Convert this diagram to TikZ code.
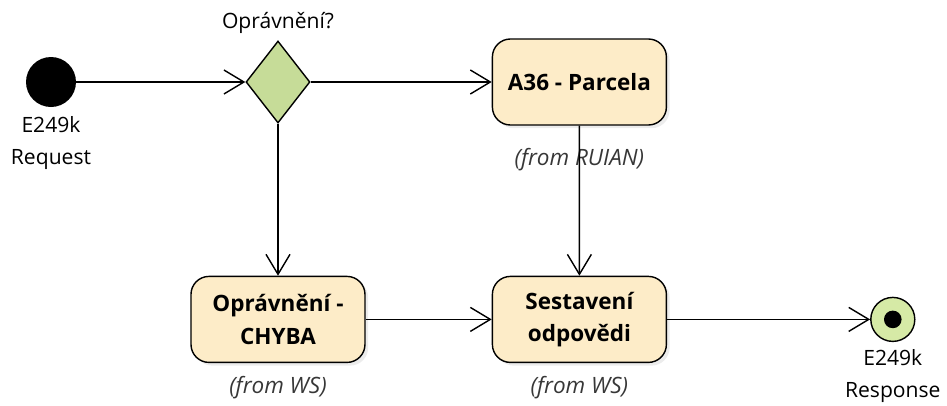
\documentclass[tikz,border=0pt]{standalone}
\usepackage{fontspec}
\setmainfont{Open Sans}
\usetikzlibrary{shapes.geometric,positioning,arrows.meta,shadows}

\definecolor{actfill}{RGB}{253,236,200}
\definecolor{decfill}{RGB}{198,220,152}
\definecolor{endfill}{RGB}{214,234,166}
\definecolor{notegray}{RGB}{55,55,55}

\begin{document}
\begin{tikzpicture}[
        node distance=3.8cm and 4.2cm,
        font=\fontsize{15}{23}\selectfont,
        activity/.style={rectangle, rounded corners=0.45cm, draw, line width=1pt, fill=actfill,
            minimum width=4.35cm, minimum height=2.15cm, align=center,
            font=\fontsize{16}{23}\selectfont\bfseries,
            drop shadow={opacity=0.15, shadow xshift=0.08cm, shadow yshift=-0.08cm}},
        decision/.style={diamond, draw, line width=1pt, fill=decfill, minimum width=1.6cm, minimum height=2.05cm, inner sep=0pt},
        initial/.style={circle, fill=black, minimum size=1.25cm, inner sep=0pt},
        final/.style={circle, draw, line width=1pt, fill=endfill, minimum size=1.1cm, inner sep=0pt,
            path picture={\fill[black] (path picture bounding box.center) circle (0.22cm);}},
        pkgnote/.style={font=\fontsize{16}{18}\selectfont\itshape, text=notegray, label distance=0.2cm},
        >={Straight Barb[length=0.5cm, width=0.6cm]},
        flow/.style={->, line width=1pt}
    ]
        \useasboundingbox (-1.275,2.05) rectangle (22.4,-8.075);

        \node[initial, label={[align=center, label distance=0.1cm]below:E249k\\Request}] (start) at (0,0) {};
        \node[decision, right=4.225cm of start, label={[label distance=0.05cm]above:Oprávnění?}] (dec) {};

        \node[activity, right=4.525cm of dec, label={[pkgnote, label distance=0.45cm]below:(from RUIAN)}] (a36) {A36 - Parcela};
        \node[activity, below=of dec, label={[pkgnote]below:(from WS)}] (chyba) {Oprávnění -\\CHYBA};
        \node[activity, right=3.15cm of chyba, label={[pkgnote]below:(from WS)}] (sestav) {Sestavení\\odpovědi};

        \node[final, right=5.075cm of sestav, label={[align=center, label distance=0.05cm]below:E249k\\Response}] (end) {};

        \draw[flow] (start) -- (dec);
        \draw[flow] (dec) -- (a36);
        \draw[flow] (dec) -- (chyba);
        \draw[flow] (a36) -- (sestav);
        \draw[flow] (chyba) -- (sestav);
        \draw[flow] (sestav) -- (end);
    \end{tikzpicture}
\end{document}
